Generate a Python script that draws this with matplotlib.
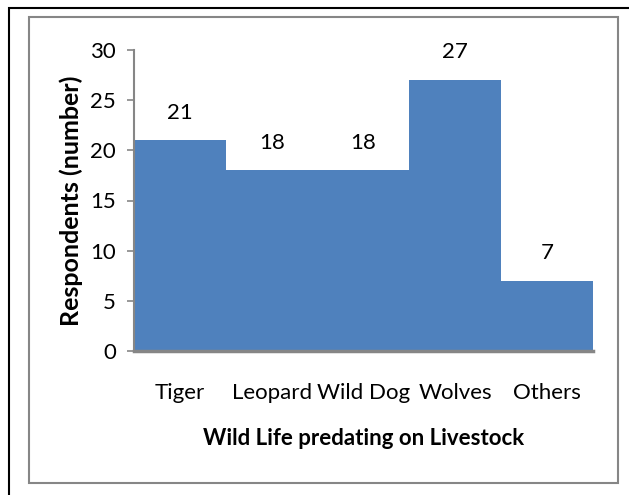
import matplotlib.pyplot as plt
from matplotlib.patches import Rectangle

plt.rcParams['font.family'] = ['Lato', 'DejaVu Sans']

animals = ['Tiger', 'Leopard', 'Wild Dog', 'Wolves', 'Others']
respondents = [21, 18, 18, 27, 7]
y_ticks = [0, 5, 10, 15, 20, 25, 30]

bar_color = '#4F81BD'
axis_gray = '#868686'

fig = plt.figure(figsize=(6.29, 4.95), dpi=100)

# outer black frame and inner grey chart border
fig.patches.append(Rectangle((9 / 629, -0.05), 1.1, 1.05 - 8 / 495, transform=fig.transFigure,
                             fill=False, edgecolor='black', linewidth=1.5))
fig.patches.append(Rectangle((29 / 629, 12 / 495), 589 / 629, 466 / 495, transform=fig.transFigure,
                             fill=False, edgecolor=axis_gray, linewidth=1.5))

ax = fig.add_axes([134 / 629, 1 - 351 / 495, 459 / 629, 301 / 495])
x = range(len(animals))
ax.bar(x, respondents, width=1.0, color=bar_color, align='center')
ax.set_xlim(-0.5, len(animals) - 0.5)
ax.set_ylim(0, 30)
ax.set_yticks(y_ticks)
ax.set_xticks(list(x))
ax.set_xticklabels(animals)

for i, v in enumerate(respondents):
    ax.annotate(str(v), (i, v), xytext=(0, 20), textcoords='offset points',
                ha='center', va='center', fontsize=16)

for side in ['top', 'right']:
    ax.spines[side].set_visible(False)
ax.spines['left'].set_color(axis_gray)
ax.spines['left'].set_linewidth(1.5)
ax.spines['bottom'].set_color(axis_gray)
ax.spines['bottom'].set_linewidth(2.5)

ax.tick_params(axis='y', colors=axis_gray, labelcolor='black', length=5, width=1.2,
               labelsize=16, pad=8)
ax.tick_params(axis='x', length=0, labelsize=16, pad=23)

ax.set_xlabel('Wild Life predating on Livestock', fontsize=16, fontweight='bold', labelpad=18)
ax.set_ylabel('Respondents (number)', fontsize=18, fontweight='bold', labelpad=5)

fig.savefig('out.png', dpi=100)
